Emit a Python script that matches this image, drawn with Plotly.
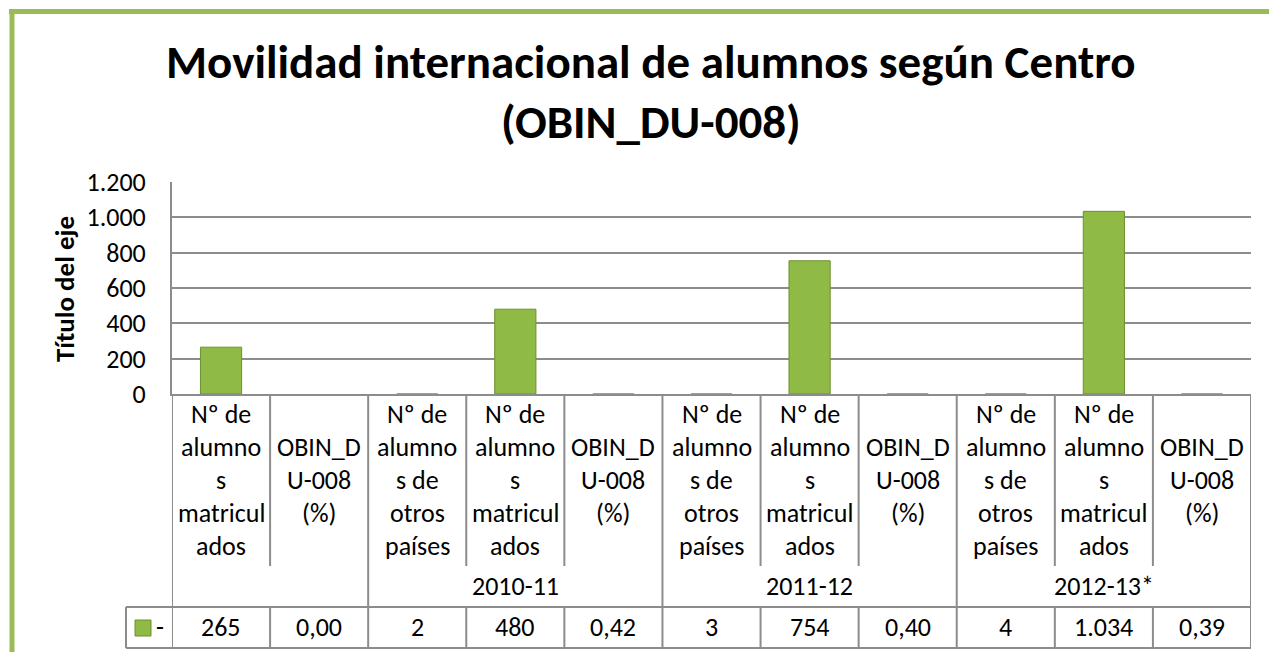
import plotly.graph_objects as go

# ---------------- data ----------------
title_text = "Movilidad internacional de alumnos según Centro<br>(OBIN_DU-008)"
y_axis_title = "Título del eje"

categories = [
    "Nº de<br>alumno<br>s<br>matricul<br>ados",
    "OBIN_D<br>U-008<br>(%)",
    "Nº de<br>alumno<br>s de<br>otros<br>países",
    "Nº de<br>alumno<br>s<br>matricul<br>ados",
    "OBIN_D<br>U-008<br>(%)",
    "Nº de<br>alumno<br>s de<br>otros<br>países",
    "Nº de<br>alumno<br>s<br>matricul<br>ados",
    "OBIN_D<br>U-008<br>(%)",
    "Nº de<br>alumno<br>s de<br>otros<br>países",
    "Nº de<br>alumno<br>s<br>matricul<br>ados",
    "OBIN_D<br>U-008<br>(%)",
]
years = ["", "2010-11", "2011-12", "2012-13*"]
year_sizes = [2, 3, 3, 3]
values = [265, 0.00, 2, 480, 0.42, 3, 754, 0.40, 4, 1034, 0.39]
decimals = [0, 2, 0, 0, 2, 0, 0, 2, 0, 0, 2]
series_name = "-"

y_tickvals = [0, 200, 400, 600, 800, 1000, 1200]
y_ticktext = ["0", "200", "400", "600", "800", "1.000", "1.200"]

# ---------------- layout helpers ----------------
OFF = 0          # body margin removed via post_script
W, H = 1269, 652
FONT = "Calibri, Carlito, Lato, sans-serif"
GRID = "#8C8C8C"
BAR = "#8FBA45"
BAR_LINE = "#6E9030"
GREEN = "#9BBB59"
TXT = 26


def fx(sx):
    return (sx - OFF) / W


def fy(sy):
    return 1 - (sy - OFF) / H


def fmt(v, d):
    if d == 0:
        s = f"{int(round(v)):,}".replace(",", ".")
    else:
        s = f"{v:.{d}f}".replace(".", ",")
    return s


n = len(values)
xs = list(range(n))

fig = go.Figure()
fig.add_trace(go.Bar(
    x=xs, y=values, name=series_name, width=0.42,
    marker=dict(color=BAR,
                line=dict(color=BAR_LINE, width=[1 if v > 20 else 0 for v in values])),
    showlegend=False, hoverinfo="skip",
))

PLOT_L, PLOT_R, PLOT_T, PLOT_B = 172, 1251, 182, 394
LABEL_BOT = 566
DATA_T, DATA_B = 607, 648
KEY_L = 126

fig.update_layout(
    width=W, height=H, autosize=False,
    margin=dict(l=0, r=0, t=0, b=0, autoexpand=False),
    paper_bgcolor="white", plot_bgcolor="white",
    font=dict(family=FONT, size=TXT, color="black"),
    showlegend=False,
    xaxis=dict(domain=[fx(PLOT_L), fx(PLOT_R)], range=[-0.5, n - 0.5],
               showticklabels=False, showgrid=False, zeroline=False, automargin=False,
               showline=True, linecolor=GRID, linewidth=2, fixedrange=True),
    yaxis=dict(domain=[fy(PLOT_B), fy(PLOT_T)], range=[0, 1200], automargin=False,
               tickvals=y_tickvals, ticktext=y_ticktext, fixedrange=True,
               showgrid=True, gridcolor=GRID, gridwidth=2,
               zeroline=False, showline=True, linecolor=GRID, linewidth=2,
               ticks="outside", ticklen=19, tickcolor="rgba(0,0,0,0)",
               tickfont=dict(family=FONT, size=TXT, color="black")),
)

shapes = []
annotations = []

# green chart border (top and left)
shapes.append(dict(type="line", xref="paper", yref="paper",
                   x0=fx(9), x1=1.0, y0=fy(11.5), y1=fy(11.5),
                   line=dict(color=GREEN, width=5)))
shapes.append(dict(type="line", xref="paper", yref="paper",
                   x0=fx(12), x1=fx(12), y0=fy(9), y1=0,
                   line=dict(color=GREEN, width=5)))

# title
for k, line in enumerate(title_text.split("<br>")):
    annotations.append(dict(text=f"<b>{line}</b>", xref="paper", yref="paper",
                            x=fx(651), y=fy(62 + 60 * k), xanchor="center", yanchor="middle",
                            showarrow=False, font=dict(family=FONT, size=47, color="black")))

# axis title
annotations.append(dict(text=f"<b>{y_axis_title}</b>", xref="paper", yref="paper",
                        x=fx(64), y=fy(289), xanchor="center", yanchor="middle",
                        textangle=-90, showarrow=False,
                        font=dict(family=FONT, size=27, color="black")))

# table grid lines
line_style = dict(color=GRID, width=2)
group_starts = []
acc = 0
for s in year_sizes:
    group_starts.append(acc)
    acc += s
for b in range(n + 1):
    xb = b - 0.5
    if b in group_starts or b == n:
        shapes.append(dict(type="line", xref="x", yref="paper", x0=xb, x1=xb,
                           y0=fy(PLOT_B), y1=fy(DATA_B), line=line_style))
    else:
        shapes.append(dict(type="line", xref="x", yref="paper", x0=xb, x1=xb,
                           y0=fy(PLOT_B), y1=fy(LABEL_BOT), line=line_style))
        shapes.append(dict(type="line", xref="x", yref="paper", x0=xb, x1=xb,
                           y0=fy(DATA_T), y1=fy(DATA_B), line=line_style))
for yy in (DATA_T, DATA_B):
    shapes.append(dict(type="line", xref="paper", yref="paper",
                       x0=fx(KEY_L), x1=fx(PLOT_R), y0=fy(yy), y1=fy(yy), line=line_style))
shapes.append(dict(type="line", xref="paper", yref="paper",
                   x0=fx(KEY_L), x1=fx(KEY_L), y0=fy(DATA_T), y1=fy(DATA_B), line=line_style))

# legend key in the table
shapes.append(dict(type="rect", xref="paper", yref="paper",
                   x0=fx(135), x1=fx(151), y0=fy(620), y1=fy(636),
                   fillcolor=BAR, line=dict(color=BAR_LINE, width=1)))
annotations.append(dict(text=series_name, xref="paper", yref="paper",
                        x=fx(160), y=fy(627), xanchor="center", yanchor="middle",
                        showarrow=False, font=dict(family=FONT, size=TXT, color="black")))

# category labels (one annotation per wrapped line)
LINE_GAP = 33
for i, lab in enumerate(categories):
    lines = lab.split("<br>")
    m = len(lines)
    for k, ln in enumerate(lines):
        yk = 480 + (k - (m - 1) / 2) * LINE_GAP
        annotations.append(dict(text=ln, xref="x", yref="paper", x=i, y=fy(yk),
                                xanchor="center", yanchor="middle", showarrow=False,
                                font=dict(family=FONT, size=TXT, color="black")))

# year labels
for g, (yr, s) in enumerate(zip(years, year_sizes)):
    if yr:
        xc = group_starts[g] + (s - 1) / 2
        annotations.append(dict(text=yr, xref="x", yref="paper", x=xc, y=fy(586),
                                xanchor="center", yanchor="middle", showarrow=False,
                                font=dict(family=FONT, size=TXT, color="black")))

# data row
for i, (v, d) in enumerate(zip(values, decimals)):
    annotations.append(dict(text=fmt(v, d), xref="x", yref="paper", x=i, y=fy(627),
                            xanchor="center", yanchor="middle", showarrow=False,
                            font=dict(family=FONT, size=TXT, color="black")))

fig.update_layout(shapes=shapes, annotations=annotations)
fig.write_html("out.html", config={"displayModeBar": False},
               post_script="document.body.style.margin='0px';document.body.style.overflow='hidden';")
